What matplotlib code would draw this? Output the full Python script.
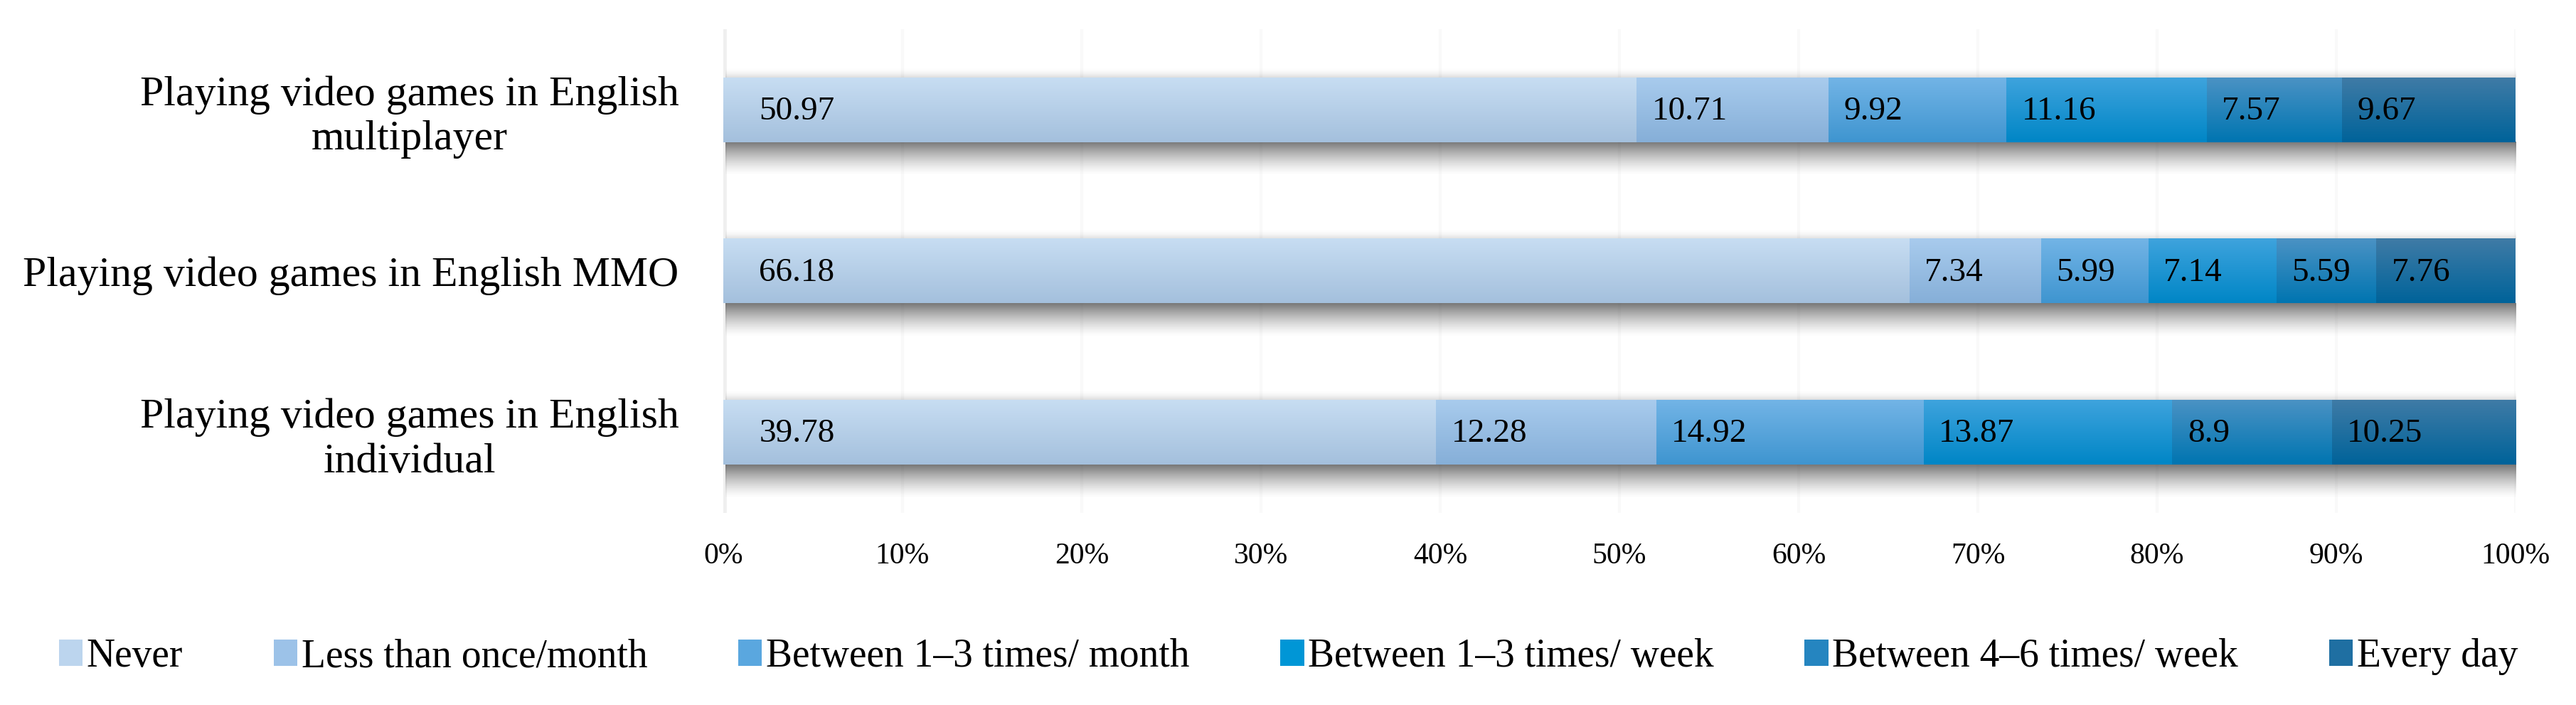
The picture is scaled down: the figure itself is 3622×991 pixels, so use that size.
import numpy as np
import matplotlib
matplotlib.use("Agg")
import matplotlib.pyplot as plt
from matplotlib.colors import to_rgb
from matplotlib.patches import Patch

# ---------------- data ----------------
categories = [
    "Playing video games in English\nmultiplayer",
    "Playing video games in English MMO",
    "Playing video games in English\nindividual",
]
series_names = [
    "Never",
    "Less than once/month",
    "Between 1\u20133 times/ month",
    "Between 1\u20133 times/ week",
    "Between 4\u20136 times/ week",
    "Every day",
]
never       = [50.97, 66.18, 39.78]
less_month  = [10.71, 7.34, 12.28]
month_1_3   = [9.92, 5.99, 14.92]
week_1_3    = [11.16, 7.14, 13.87]
week_4_6    = [7.57, 5.59, 8.90]
every_day   = [9.67, 7.76, 10.25]
value_labels = [
    ["50.97", "10.71", "9.92", "11.16", "7.57", "9.67"],
    ["66.18", "7.34", "5.99", "7.14", "5.59", "7.76"],
    ["39.78", "12.28", "14.92", "13.87", "8.9", "10.25"],
]
xticks = [0, 10, 20, 30, 40, 50, 60, 70, 80, 90, 100]
xtick_labels = [f"{t}%" for t in xticks]

series = [never, less_month, month_1_3, week_1_3, week_4_6, every_day]

# gradient colours (top, bottom) per series
grad_top = ["#c7ddf2", "#a8cbed", "#72b4e6", "#3ea3dd", "#4a92c4", "#3f7ba6"]
grad_bot = ["#a4c0dd", "#86afd8", "#3f95d0", "#0086c6", "#0075b1", "#00639a"]
mid_cols = ["#bcd5ee", "#9cc2e8", "#5aa7df", "#0096d6", "#2585c0", "#1f6fa2"]

# ---------------- figure ----------------
W, H, DPI = 3623, 991, 100
fig = plt.figure(figsize=(W / DPI, H / DPI), dpi=DPI)
ax = fig.add_axes([1017 / W, 1 - 721 / H, (3537 - 1017) / W, (721 - 41) / H])

serif = ["Liberation Serif", "DejaVu Serif"]
y = np.arange(len(categories))
bar_h = 0.40

# faint gridlines
for t in xticks:
    ax.axvline(t, color="#f9f9f9", lw=3, zorder=0)
ax.axvline(0, color="#efefef", lw=7, zorder=0.5)

left = np.zeros(len(categories))
containers = []
for i, vals in enumerate(series):
    bc = ax.barh(y, vals, left=left, height=bar_h, color=mid_cols[i],
                 edgecolor="none", zorder=2, label=series_names[i])
    containers.append(bc)
    left = left + np.array(vals)

# shadows under each full bar
n = 60
alpha = np.linspace(1, 0, n) ** 1.4 * 0.68
shadow = np.zeros((n, 1, 4))
shadow[:, 0, 3] = alpha
shadow[:, 0, :3] = 0.22
n2 = 20
glow = np.zeros((n2, 1, 4))
glow[:, 0, 3] = np.linspace(0, 1, n2) ** 2 * 0.13
for k, c in enumerate(y):
    total = left[k]
    ybot = c + bar_h / 2
    ax.imshow(shadow, extent=(0.1, total + 0.35, ybot + 0.21, ybot),
              origin="upper", aspect="auto", zorder=1, interpolation="bilinear")
    ytop = c - bar_h / 2
    ax.imshow(glow, extent=(0.1, total + 0.2, ytop, ytop - 0.07),
              origin="upper", aspect="auto", zorder=1, interpolation="bilinear")

# gradient fill for each segment
m = 64
tvals = np.linspace(0, 1, m)
for i, bc in enumerate(containers):
    c0 = np.array(to_rgb(grad_top[i]))
    c1 = np.array(to_rgb(grad_bot[i]))
    grad = (c0[None, :] * (1 - tvals[:, None]) + c1[None, :] * tvals[:, None])[:, None, :]
    for p in bc.patches:
        x0, y0, w, h = p.get_x(), p.get_y(), p.get_width(), p.get_height()
        ax.imshow(grad, extent=(x0, x0 + w, y0 + h, y0), origin="upper",
                  aspect="auto", zorder=3, interpolation="bilinear")

# value labels
for i, bc in enumerate(containers):
    pad = 2.0 if i == 0 else 0.85
    for k, p in enumerate(bc.patches):
        ax.text(p.get_x() + pad, p.get_y() + p.get_height() / 2 + 0.01,
                value_labels[k][i], ha="left", va="center",
                fontsize=34, family=serif, color="#000000", zorder=5)

ax.set_xlim(0, 100)
ax.set_ylim(len(categories) - 0.5, -0.5)
ax.set_yticks(y)
ax.set_yticklabels(categories, family=serif, fontsize=43, multialignment="center")
ax.set_xticks(xticks)
ax.set_xticklabels(xtick_labels, family=serif, fontsize=30)
ax.tick_params(axis="y", length=0, pad=45)
ax.tick_params(axis="x", length=0, pad=30)
for s in ax.spines.values():
    s.set_visible(False)

handles = [Patch(facecolor=mid_cols[i], edgecolor="none") for i in range(len(series_names))]
fig.legend(handles, series_names, loc="center", bbox_to_anchor=(0.5, 1 - 923 / H),
           ncol=6, frameon=False, prop={"family": serif, "size": 40},
           handlelength=0.6, handleheight=0.65, handletextpad=0.1,
           columnspacing=2.3)

fig.savefig("out.png", dpi=DPI, facecolor="white")
